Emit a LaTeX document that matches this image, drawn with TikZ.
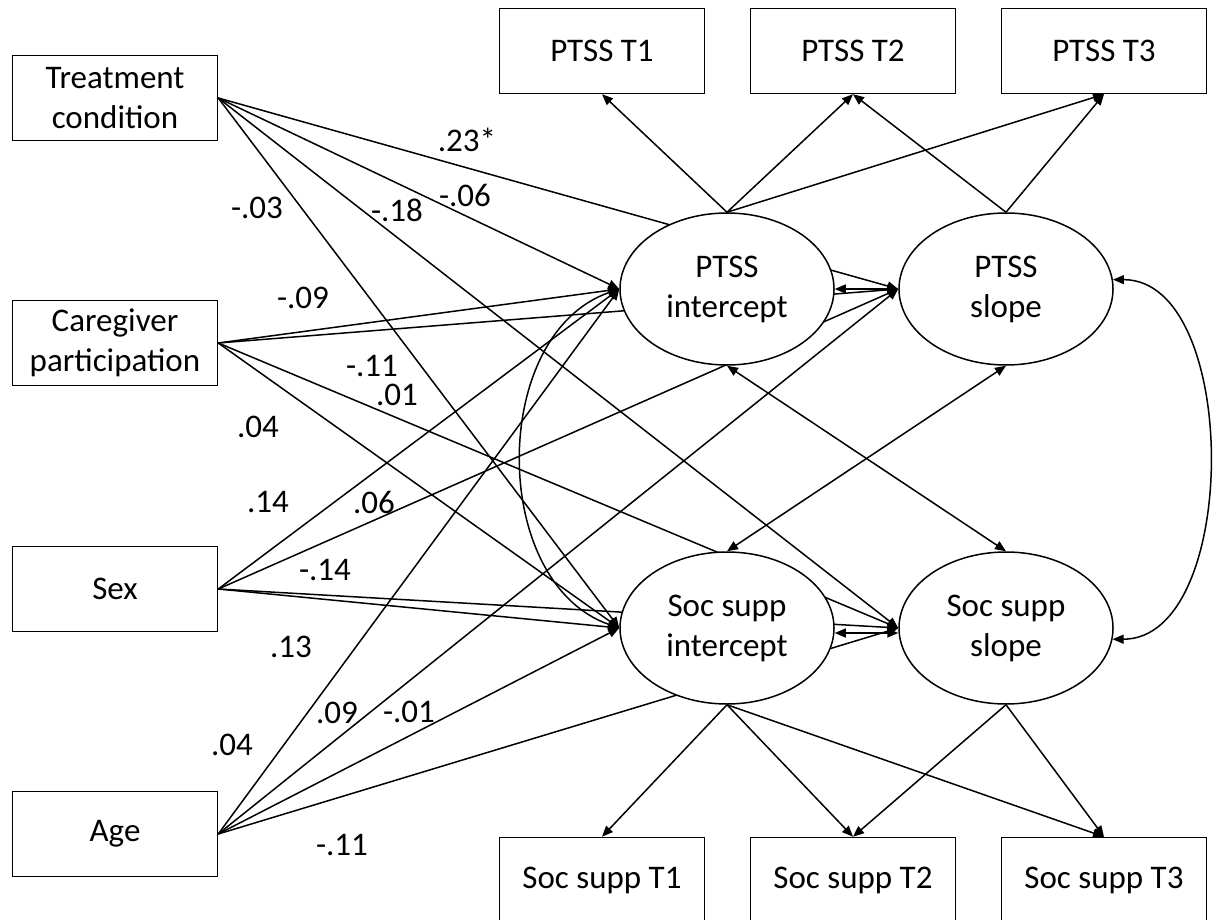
\documentclass[tikz,border=0pt]{standalone}
\usepackage{fontspec}
\setmainfont{Carlito}
\usetikzlibrary{arrows.meta,shapes.geometric}
\pgfdeclarelayer{bg}
\pgfsetlayers{bg,main}
\tikzset{
  obs/.style={draw,line width=1.5pt,minimum width=205pt,minimum height=85pt,align=center,inner sep=0pt},
  lat/.style={ellipse,draw,fill=white,line width=1.5pt,minimum width=214pt,minimum height=152pt,align=center,inner sep=0pt},
  reg/.style={-{Triangle[length=11pt,width=9pt]},line width=1.5pt},
  cov/.style={{Triangle[length=11pt,width=9pt]}-{Triangle[length=11pt,width=9pt]},line width=1.5pt},
  est/.style={inner sep=0pt}
}

\begin{document}
\begin{tikzpicture}[x=1pt,y=-1pt,
  every node/.style={font=\fontsize{33}{40}\selectfont}]
\useasboundingbox (0,0) rectangle (1213,920);

% Covariates on the left
\node[obs] (treat) at (115, 98) {Treatment\\condition};
\node[obs] (care)  at (115,343) {Caregiver\\participation};
\node[obs] (sex)   at (115,589) {Sex};
\node[obs] (age)   at (115,834) {Age};

% Growth factors
\node[lat] (ptssI) at ( 727,289) {PTSS\\intercept};
\node[lat] (ptssS) at (1006,289) {PTSS\\slope};
\node[lat] (socI)  at ( 727,628) {Soc supp\\intercept};
\node[lat] (socS)  at (1006,628) {Soc supp\\slope};

% Repeated measures
\node[obs] (P1) at ( 602, 51) {PTSS T1};
\node[obs] (P2) at ( 853, 51) {PTSS T2};
\node[obs] (P3) at (1104, 51) {PTSS T3};
\node[obs] (S1) at ( 602,880) {Soc supp T1};
\node[obs] (S2) at ( 853,880) {Soc supp T2};
\node[obs] (S3) at (1104,880) {Soc supp T3};

% Covariate effects (behind the ellipses)
\begin{pgfonlayer}{bg}
\draw[reg] (treat.east) -- (ptssI.west);
\draw[reg] (treat.east) -- (ptssS.west);
\draw[reg] (treat.east) -- (socI.west);
\draw[reg] (treat.east) -- (socS.west);
\draw[reg] (care.east) -- (ptssI.west);
\draw[reg] (care.east) -- (ptssS.west);
\draw[reg] (care.east) -- (socI.west);
\draw[reg] (care.east) -- (socS.west);
\draw[reg] (sex.east) -- (ptssI.west);
\draw[reg] (sex.east) -- (ptssS.west);
\draw[reg] (sex.east) -- (socI.west);
\draw[reg] (sex.east) -- (socS.west);
\draw[reg] (age.east) -- (ptssI.west);
\draw[reg] (age.east) -- (ptssS.west);
\draw[reg] (age.east) -- (socI.west);
\draw[reg] (age.east) -- (socS.west);
\end{pgfonlayer}

% Estimates
\node[est] (e1)  at (467,140) {.23*};
\node[est] (e2)  at (465,195) {-.06};
\node[est] (e3)  at (397,210) {-.18};
\node[est] (e4)  at (257,208) {-.03};
\node[est] (e5)  at (303,298) {-.09};
\node[est] (e6)  at (372,366) {-.11};
\node[est] (e7)  at (397,395) {.01};
\node[est] (e8)  at (258,427) {.04};
\node[est] (e9)  at (268,502) {.14};
\node[est] (e10) at (374,502) {.06};
\node[est] (e11) at (325,570) {-.14};
\node[est] (e12) at (291,647) {.13};
\node[est] (e13) at (337,713) {.09};
\node[est] (e14) at (409,712) {-.01};
\node[est] (e15) at (232,745) {.04};
\node[est] (e16) at (342,845) {-.11};

% Loadings
\draw[reg] (ptssI.north) -- (P1.south);
\draw[reg] (ptssI.north) -- (P2.south);
\draw[reg] (ptssI.north) -- (P3.south);
\draw[reg] (ptssS.north) -- (P2.south);
\draw[reg] (ptssS.north) -- (P3.south);
\draw[reg] (socI.south) -- (S1.north);
\draw[reg] (socI.south) -- (S2.north);
\draw[reg] (socI.south) -- (S3.north);
\draw[reg] (socS.south) -- (S2.north);
\draw[reg] (socS.south) -- (S3.north);

% Factor covariances
\draw[cov] (ptssI.east) -- (ptssS.west);
\draw[cov] ([yshift=-5pt]socI.east) -- ([yshift=-5pt]socS.west);
\draw[cov] (ptssI.south) -- (socS.north);
\draw[cov] (socI.north) -- (ptssS.south);
\draw[cov] (ptssI.west) .. controls +(-130,45) and +(-130,-45) .. (socI.west);
\draw[cov] (ptssS.5) .. controls +(128,0) and +(128,0) .. (socS.-6);

\end{tikzpicture}
\end{document}
